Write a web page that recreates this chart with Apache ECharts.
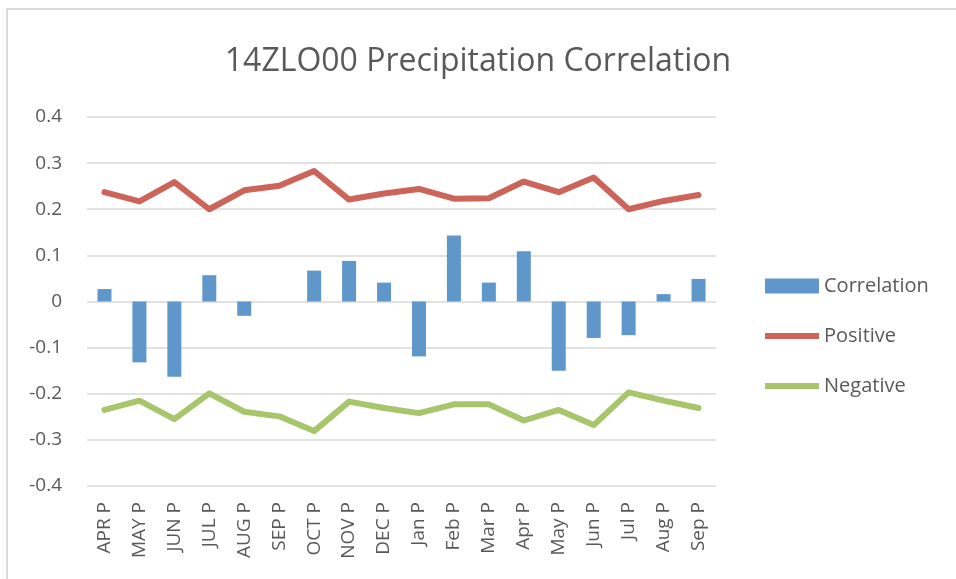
<!DOCTYPE html>
<html>
<head>
<meta charset="utf-8">
<script src="https://cdn.jsdelivr.net/npm/echarts@6/dist/echarts.min.js"></script>
<style>
  html, body { margin: 0; padding: 0; background: #fff; }
  #chart { width: 956px; height: 579px; }
</style>
</head>
<body>
<div id="chart"></div>
<script>
// 数据
var categories = ['APR P', 'MAY P', 'JUN P', 'JUL P', 'AUG P', 'SEP P', 'OCT P', 'NOV P', 'DEC P',
    'Jan P', 'Feb P', 'Mar P', 'Apr P', 'May P', 'Jun P', 'Jul P', 'Aug P', 'Sep P'];
var correlation = [0.027, -0.132, -0.163, 0.057, -0.031, 0, 0.067, 0.088, 0.041,
    -0.119, 0.143, 0.041, 0.109, -0.150, -0.079, -0.073, 0.016, 0.049];
var positive = [0.237, 0.217, 0.259, 0.200, 0.241, 0.251, 0.283, 0.221, 0.234,
    0.244, 0.223, 0.224, 0.260, 0.237, 0.269, 0.200, 0.218, 0.231];
var negative = [-0.235, -0.215, -0.255, -0.199, -0.239, -0.249, -0.281, -0.217, -0.231,
    -0.242, -0.223, -0.223, -0.258, -0.235, -0.268, -0.197, -0.215, -0.231];

var textColor = '#595959';
var fontName = 'Open Sans';
// 图例里的线条图标（上下留白，只画中间一条粗线）
var lineIcon = 'path://M0,0 M0,4.5 L54,4.5 L54,10.5 L0,10.5 Z M54,15';

var option = {
    backgroundColor: '#fff',
    textStyle: { fontFamily: fontName },
    graphic: [{
        type: 'rect',
        shape: { x: 7, y: 9, width: 1000, height: 1000 },
        style: { fill: 'none', stroke: '#d9d9d9', lineWidth: 2 },
        silent: true
    }],
    title: {
        text: '14ZLO00 Precipitation Correlation',
        left: 'center',
        top: 41,
        textStyle: { color: textColor, fontSize: 32, fontWeight: 'normal', fontFamily: fontName }
    },
    legend: {
        orient: 'vertical',
        left: 760,
        top: 271,
        itemGap: 30,
        itemWidth: 54,
        itemHeight: 15,
        textStyle: { color: textColor, fontSize: 20, fontFamily: fontName },
        data: [
            { name: 'Correlation', icon: 'rect' },
            { name: 'Positive', icon: lineIcon },
            { name: 'Negative', icon: lineIcon }
        ]
    },
    grid: { left: 87, right: 240, top: 117, bottom: 93 },
    xAxis: {
        type: 'category',
        data: categories,
        boundaryGap: true,
        axisLine: { show: false, onZero: false },
        axisTick: { show: false },
        axisLabel: { rotate: 90, color: textColor, fontSize: 19, margin: 16, interval: 0, fontFamily: fontName }
    },
    yAxis: {
        type: 'value',
        min: -0.4,
        max: 0.4,
        interval: 0.1,
        axisLine: { show: false },
        axisTick: { show: false },
        splitLine: { lineStyle: { color: '#d9d9d9', width: 1.5 } },
        axisLabel: {
            color: textColor,
            fontSize: 19,
            margin: 25,
            fontFamily: fontName,
            formatter: function (v) {
                var r = Math.round(v * 10) / 10;
                return r === 0 ? '0' : r.toFixed(1);
            }
        }
    },
    series: [{
        name: 'Correlation',
        type: 'bar',
        data: correlation,
        barWidth: 14,
        itemStyle: { color: '#6097cb' }
    }, {
        name: 'Positive',
        type: 'line',
        data: positive,
        symbol: 'none',
        lineStyle: { color: '#cd645a', width: 6, cap: 'round', join: 'round' },
        itemStyle: { color: '#cd645a' }
    }, {
        name: 'Negative',
        type: 'line',
        data: negative,
        symbol: 'none',
        lineStyle: { color: '#a7c56a', width: 6, cap: 'round', join: 'round' },
        itemStyle: { color: '#a7c56a' }
    }]
};

var myChart = echarts.init(document.getElementById('chart'));
myChart.setOption(option);
</script>
</body>
</html>
